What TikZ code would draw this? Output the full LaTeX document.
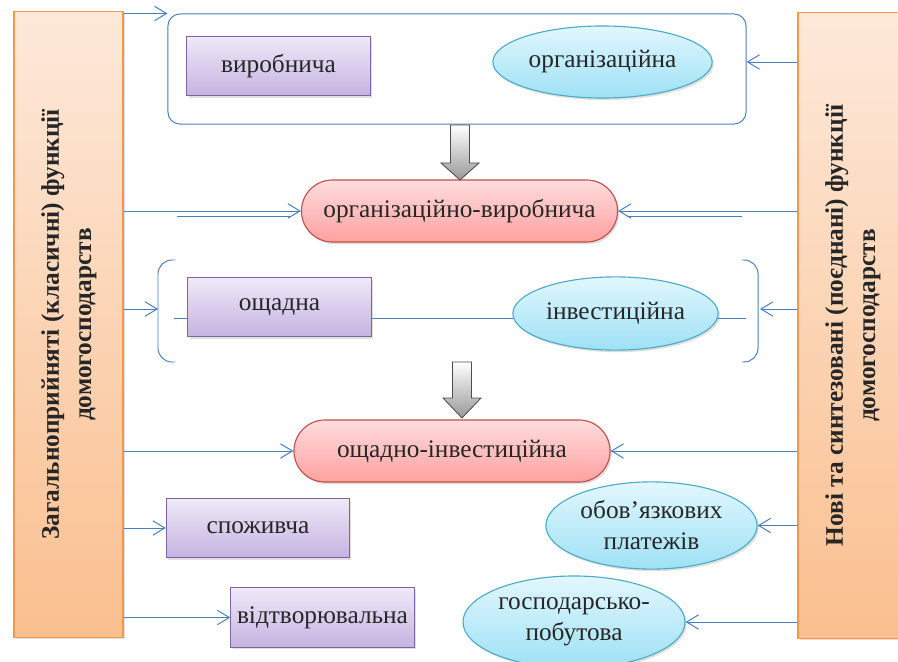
\documentclass[tikz,border=0pt]{standalone}
\usepackage{fontspec}
\setmainfont{Liberation Serif}
\usetikzlibrary{arrows.meta,shapes.geometric,shapes.misc,shadows,backgrounds}

\definecolor{linkblue}{HTML}{4A7EBB}
\definecolor{bartop}{HTML}{FDE9DA}
\definecolor{barbot}{HTML}{FABF8F}
\definecolor{barline}{HTML}{F79646}
\definecolor{boxtop}{HTML}{EFE9F8}
\definecolor{boxbot}{HTML}{C5B3E0}
\definecolor{boxline}{HTML}{8064A2}
\definecolor{elltop}{HTML}{E2F7FD}
\definecolor{ellbot}{HTML}{9EE1F5}
\definecolor{ellline}{HTML}{4BACC6}
\definecolor{redtop}{HTML}{FFDDDD}
\definecolor{redbot}{HTML}{FFA0A0}
\definecolor{redline}{HTML}{C0504D}
\definecolor{textgray}{HTML}{262626}

\tikzset{
	softshadow/.style={drop shadow={opacity=0.25, shadow xshift=1.2pt, shadow yshift=-1.5pt}},
	sidebar/.style={draw=barline, line width=0.8pt, top color=bartop, bottom color=barbot, minimum width=2.725cm, minimum height=15.625cm, inner sep=0pt, softshadow, font=\bfseries\fontsize{18}{23}\selectfont, text=textgray},
	funcbox/.style={draw=boxline, line width=0.8pt, top color=boxtop, bottom color=boxbot, minimum width=4.58cm, minimum height=1.48cm, inner sep=0pt, softshadow},
	blueshape/.style={ellipse, draw=ellline, line width=0.8pt, top color=elltop, bottom color=ellbot, inner sep=0pt, align=center, softshadow},
	redshape/.style={rounded rectangle, draw=redline, line width=0.8pt, top color=redtop, bottom color=redbot, minimum width=7.9cm, minimum height=1.55cm, inner sep=0pt, softshadow},
	link/.style={draw=linkblue, line width=0.7pt, -{Straight Barb[length=3mm, width=3.6mm]}},
	link line/.style={draw=linkblue, line width=0.7pt},
	blockarrow/.style={draw=black!70, line width=0.6pt, top color=white, bottom color=black!40},
	every node/.style={text=textgray, font=\fontsize{18}{22}\selectfont}
}

\begin{document}
\begin{tikzpicture}[x=0.025cm, y=-0.025cm]
	\useasboundingbox (0,0) rectangle (898,662);
	
	% side bars
	\node[sidebar] (classic) at (68.5,324.5) {\rotatebox{90}{\begin{tabular}{c}Загальноприйняті (класичні) функції\\домогосподарств\end{tabular}}};
	\node[sidebar] (novel) at (852.5,325.5) {\rotatebox{90}{\begin{tabular}{c}Нові та синтезовані (поєднані) функції\\домогосподарств\end{tabular}}};
	
	% top group
	\node[draw=linkblue, line width=0.7pt, rounded corners=3mm, minimum width=14.45cm, minimum height=2.75cm] (prodgroup) at (457,69) {};
	\node[funcbox] (prod) at (278.5,66) {виробнича};
	\node[blueshape, minimum width=5.48cm, minimum height=1.8cm] (org) at (602.5,62) {організаційна};
	
	% middle group
	\coordinate (lbr) at (158,309);
	\coordinate (rbr) at (760,309);
	\coordinate (ml) at (174,318);
	\coordinate (mr) at (746,318);
	\draw[link line, rounded corners=3.5mm] (175,260) -- (158,260) -- (158,362) -- (175,362);
	\draw[link line, rounded corners=3.5mm] (742,260) -- (758,260) -- (758,362) -- (742,362);
	\draw[link line] (ml) -- (mr);
	\node[funcbox] (saving) at (279.5,307) {ощадна};
	\node[blueshape, minimum width=5.13cm, minimum height=1.83cm] (invest) at (615.5,313.5) {інвестиційна};
	
	% combined functions
	\node[redshape] (orgprod) at (459.5,211) {організаційно-виробнича};
	\node[redshape] (savinv) at (452,451) {ощадно-інвестиційна};
	
	\foreach \cx/\ya/\yb/\yc in {460/125/163/180, 462/362/398/418}
	{
		\draw[blockarrow] (\cx-9.5,\ya) -- (\cx+9.5,\ya) -- (\cx+9.5,\yb) -- (\cx+19,\yb) -- (\cx,\yc) -- (\cx-19,\yb) -- (\cx-9.5,\yb) -- cycle;
	}
	
	% lower functions
	\node[funcbox] (consum) at (258,528) {споживча};
	\node[funcbox] (reprod) at (322.5,617.5) {відтворювальна};
	\node[blueshape, minimum width=5.28cm, minimum height=2.18cm] (oblig) at (651.5,525.5) {обов’язкових\\платежів};
	\node[blueshape, minimum width=5.55cm, minimum height=2.3cm] (house) at (574,622) {господарсько-\\побутова};
	
	% connectors from the left bar
	\draw[link] (classic.east |- prodgroup.north west) -- (prodgroup.north west);
	\draw[link] (classic.east |- orgprod.west) -- (orgprod.west);
	\draw[link] (classic.east |- lbr) -- (lbr);
	\draw[link] (classic.east |- savinv.west) -- (savinv.west);
	\draw[link] (classic.east |- consum.west) -- (consum.west);
	\draw[link] (classic.east |- reprod.west) -- (reprod.west);
	
	% connectors from the right bar
	\draw[link] (novel.west |- org.east) -- (prodgroup.east |- org.east);
	\draw[link] (novel.west |- orgprod.east) -- (orgprod.east);
	\draw[link] (novel.west |- rbr) -- (rbr);
	\draw[link] (novel.west |- savinv.east) -- (savinv.east);
	\draw[link] (novel.west |- oblig.east) -- (oblig.east);
	\draw[link] (novel.west |- house.east) -- (house.east);
	
	% second strokes beside the arrows
	\coordinate (sla) at (177,216);
	\coordinate (slb) at (290,216);
	\coordinate (sra) at (742,216);
	\coordinate (srb) at (627,216);
	\draw[link line] (sla) -- (slb);
	\draw[link line] (sra) -- (srb);
\end{tikzpicture}
\end{document}
